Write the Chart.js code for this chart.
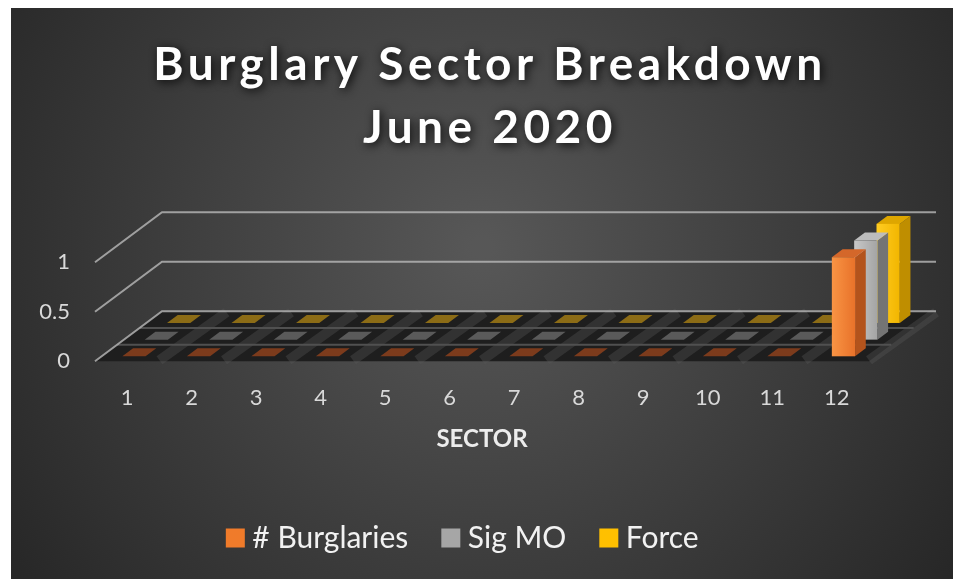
<!DOCTYPE html>
<html>
<head>
<meta charset="utf-8">
<script src="https://cdn.jsdelivr.net/npm/chart.js@4/dist/chart.umd.min.js"></script>
<style>
html,body{margin:0;padding:0;background:#ffffff;}
#wrap{position:absolute;left:11px;top:8px;width:942px;height:571px;}
</style>
</head>
<body>
<div id="wrap"><canvas id="c" width="942" height="571"></canvas></div>
<script>
// ---- data ----
const sectors = ['1','2','3','4','5','6','7','8','9','10','11','12'];
const burglaries = [0,0,0,0,0,0,0,0,0,0,0,1];
const sigMO      = [0,0,0,0,0,0,0,0,0,0,0,1];
const force      = [0,0,0,0,0,0,0,0,0,0,0,1];
const seriesNames = ['# Burglaries','Sig MO','Force'];
const yTicks = [0, 0.5, 1];
const yTickLabels = ['0', '0.5', '1'];
const titleLines = ['Burglary Sector Breakdown','June 2020'];
const xAxisTitle = 'SECTOR';

// ---- styles ----
const FONT = 'Lato, "Open Sans", sans-serif';
const SERIES_STYLE = [
  {front:['#f99444','#e8722a'], side:'#b3531c', top:'#d4672a', flat:'#7c3b1c', legend:'#f07b2a'},
  {front:['#c8c8c8','#a4a4a4'], side:'#747474', top:'#bcbcbc', flat:'#5a5a5a', legend:'#a6a6a6'},
  {front:['#ffcc22','#f2b600'], side:'#bf8e00', top:'#dea600', flat:'#8c6c16', legend:'#ffc000'}
];
const DEPTH_DX = 67, DEPTH_DY = -50;      // full floor depth in px
const BAR_W = 0.36, BAR_D = 0.16, BAR_OFF = 0.3;

const depthPlugin = {
  id: 'depth3d',
  afterLayout(chart) {
    if (chart.legend) { chart.legend.left -= 16; chart.legend.right -= 16; }
    if (chart.titleBlock) { chart.titleBlock.left += 8; chart.titleBlock.right += 8; }
  },
  beforeDraw(chart) {
    const {ctx, width, height} = chart;
    const tb = chart.titleBlock;
    if (tb && !tb._wrapped) {
      const orig = tb.draw.bind(tb);
      tb.draw = function(a) {
        const c = chart.ctx;
        c.save();
        c.letterSpacing = '4.5px';
        c.shadowColor = 'rgba(0,0,0,0.9)';
        c.shadowBlur = 10;
        c.shadowOffsetX = 2; c.shadowOffsetY = 2;
        orig(a);
        c.restore();
      };
      tb._wrapped = true;
    }
    ctx.save();
    const g = ctx.createRadialGradient(width*0.5, height*0.42, 10, width*0.5, height*0.42, width*0.62);
    g.addColorStop(0, '#575757');
    g.addColorStop(1, '#262626');
    ctx.fillStyle = g;
    ctx.fillRect(0, 0, width, height);
    ctx.restore();
  },
  beforeDatasetsDraw(chart) {
    const {ctx, chartArea: a, scales} = chart;
    const x = scales.x, y = scales.y;
    const y0 = y.getPixelForValue(0);
    ctx.save();
    // floor
    ctx.beginPath();
    ctx.moveTo(a.left, y0);
    ctx.lineTo(a.right, y0);
    ctx.lineTo(a.right + DEPTH_DX, y0 + DEPTH_DY);
    ctx.lineTo(a.left + DEPTH_DX, y0 + DEPTH_DY);
    ctx.closePath();
    ctx.fillStyle = '#1e1e1e';
    ctx.fill();
    // faint diagonal bands between categories
    const cw = x.getPixelForValue(1) - x.getPixelForValue(0);
    ctx.strokeStyle = 'rgba(90,90,90,0.35)';
    ctx.lineWidth = 10;
    for (let i = 0; i < sectors.length; i++) {
      const bx = x.getPixelForValue(i) + cw*0.5;
      ctx.beginPath();
      ctx.moveTo(bx, y0 - 1);
      ctx.lineTo(bx + DEPTH_DX, y0 + DEPTH_DY + 1);
      ctx.stroke();
    }
    // row separators
    ctx.strokeStyle = '#505050';
    ctx.lineWidth = 2;
    for (let k = 1; k < 3; k++) {
      const d = k / 3;
      ctx.beginPath();
      ctx.moveTo(a.left + d*DEPTH_DX, y0 + d*DEPTH_DY);
      ctx.lineTo(a.right + d*DEPTH_DX, y0 + d*DEPTH_DY);
      ctx.stroke();
    }
    // gridlines: side wall + back wall
    ctx.strokeStyle = 'rgba(185,185,185,0.8)';
    ctx.lineWidth = 2;
    yTicks.forEach(v => {
      const py = y.getPixelForValue(v);
      ctx.beginPath();
      ctx.moveTo(a.left, py);
      ctx.lineTo(a.left + DEPTH_DX, py + DEPTH_DY);
      ctx.lineTo(a.right + DEPTH_DX, py + DEPTH_DY);
      ctx.stroke();
    });
    // bars (back row first)
    const ds = chart.data.datasets;
    const w = cw * BAR_W;
    const bdx = BAR_D * DEPTH_DX, bdy = BAR_D * DEPTH_DY;
    for (let s = ds.length - 1; s >= 0; s--) {
      const st = SERIES_STYLE[s];
      const d0 = (s + BAR_OFF) / 3;
      ds[s].data.forEach((v, i) => {
        const cx = x.getPixelForValue(i) + d0*DEPTH_DX;
        const xl = cx - w/2, xr = cx + w/2;
        const yb = y.getPixelForValue(0) + d0*DEPTH_DY;
        const yt = y.getPixelForValue(v) + d0*DEPTH_DY;
        if (v === 0) {
          ctx.beginPath();
          ctx.moveTo(xl, yb); ctx.lineTo(xr, yb);
          ctx.lineTo(xr + bdx, yb + bdy); ctx.lineTo(xl + bdx, yb + bdy);
          ctx.closePath();
          ctx.fillStyle = st.flat;
          ctx.fill();
          return;
        }
        // side
        ctx.beginPath();
        ctx.moveTo(xr, yt); ctx.lineTo(xr + bdx, yt + bdy);
        ctx.lineTo(xr + bdx, yb + bdy); ctx.lineTo(xr, yb);
        ctx.closePath();
        ctx.fillStyle = st.side; ctx.fill();
        // top
        ctx.beginPath();
        ctx.moveTo(xl, yt); ctx.lineTo(xr, yt);
        ctx.lineTo(xr + bdx, yt + bdy); ctx.lineTo(xl + bdx, yt + bdy);
        ctx.closePath();
        ctx.fillStyle = st.top; ctx.fill();
        // front
        const g = ctx.createLinearGradient(xl, 0, xr, 0);
        g.addColorStop(0, st.front[0]); g.addColorStop(1, st.front[1]);
        ctx.fillStyle = g;
        ctx.fillRect(xl, yt, w, yb - yt);
      });
    }
    ctx.restore();
  },
  beforeDatasetDraw() { return false; }
};

const seriesData = [burglaries, sigMO, force];
new Chart(document.getElementById('c'), {
  type: 'bar',
  data: {
    labels: sectors,
    datasets: seriesData.map((d, s) => ({
      label: seriesNames[s],
      data: d,
      backgroundColor: SERIES_STYLE[s].legend,
      borderColor: SERIES_STYLE[s].legend,
      borderWidth: 0
    }))
  },
  options: {
    responsive: false,
    animation: false,
    layout: { padding: { bottom: 16 } },
    plugins: {
      tooltip: { enabled: false },
      title: {
        display: true,
        text: titleLines,
        color: '#ffffff',
        font: { family: FONT, size: 46, weight: 'bold', lineHeight: 1.37 },
        padding: { top: 25.5, bottom: 102.7 }
      },
      legend: {
        position: 'bottom',
        labels: {
          color: '#f2f2f2',
          font: { family: FONT, size: 30 },
          usePointStyle: true,
          pointStyle: 'rect',
          boxWidth: 4,
          boxHeight: 19,
          padding: 40.5
        }
      }
    },
    scales: {
      x: {
        grid: { display: false, drawTicks: false },
        border: { display: false },
        ticks: { color: '#d9d9d9', font: { family: FONT, size: 22 }, padding: 23 },
        title: {
          display: true, text: xAxisTitle, color: '#ececec',
          font: { family: FONT, size: 24, weight: 'bold' },
          padding: { top: -8.5, bottom: 28.5 }
        }
      },
      y: {
        min: 0, max: 1,
        afterBuildTicks: s => { s.ticks = yTicks.map(v => ({ value: v })); },
        afterFit: s => { s.width = 84; },
        grid: { display: false, drawTicks: false },
        border: { display: false },
        ticks: {
          color: '#d9d9d9', font: { family: FONT, size: 22 }, padding: 25,
          callback: (v, i) => yTickLabels[i]
        }
      },
      y2: {
        position: 'right',
        display: true,
        min: 0, max: 1,
        afterFit: s => { s.width = 84; },
        grid: { display: false, drawTicks: false },
        border: { display: false },
        ticks: { display: false }
      }
    }
  },
  plugins: [depthPlugin]
});
</script>
</body>
</html>
